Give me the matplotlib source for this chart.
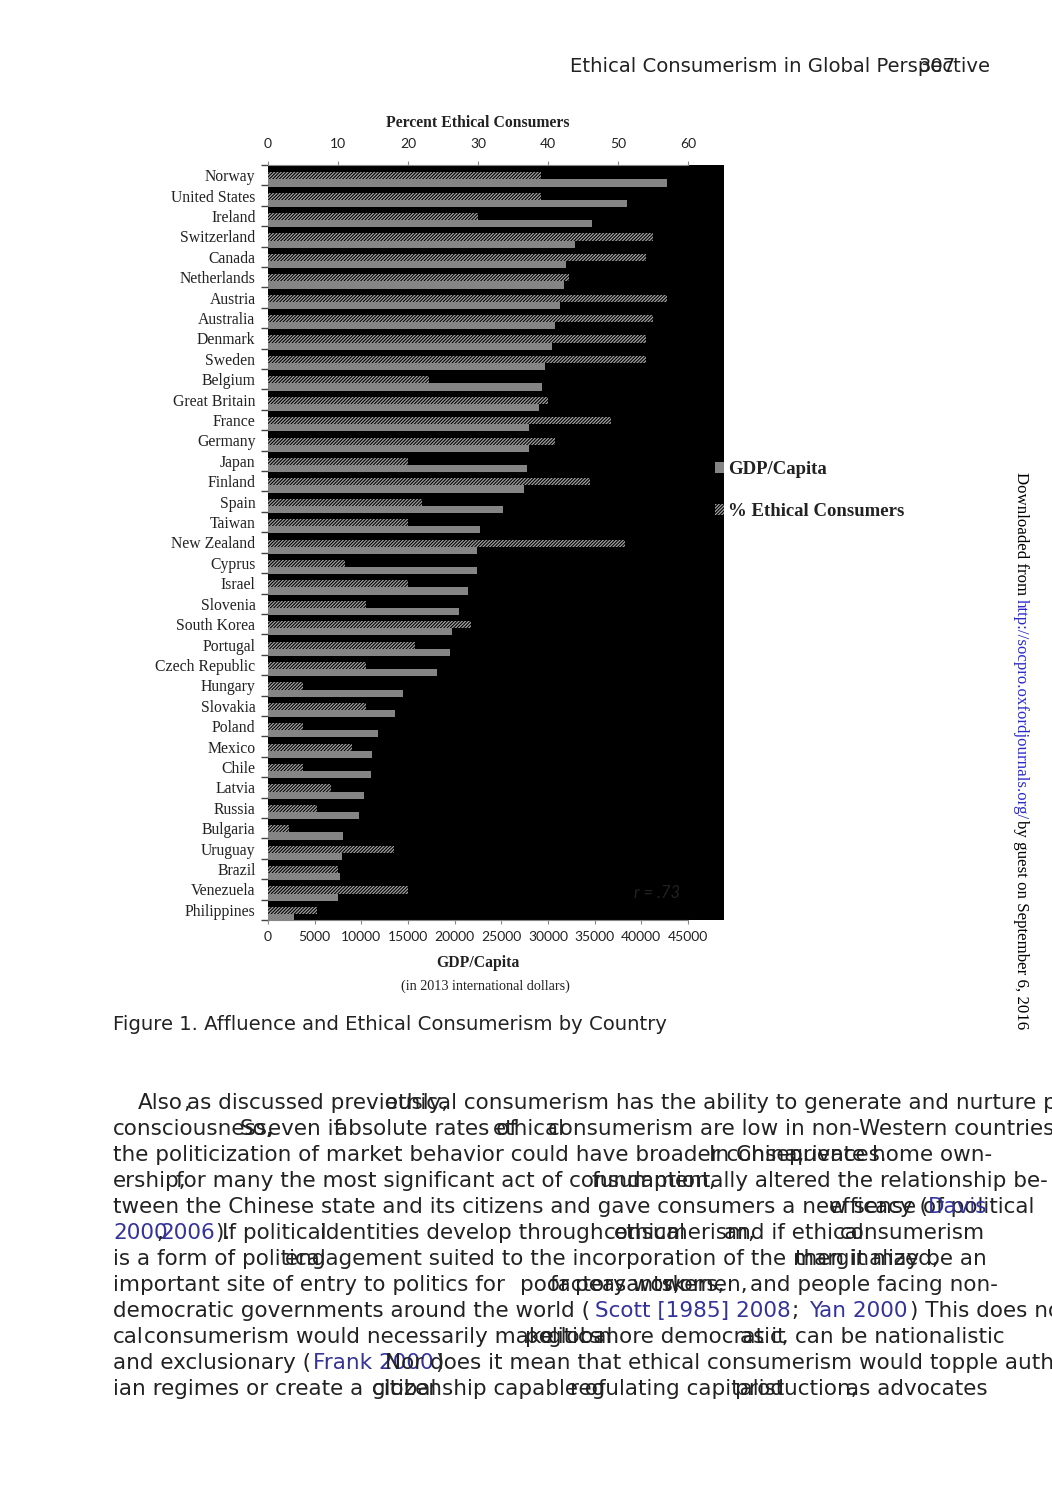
import numpy as np
import matplotlib.pyplot as plt
from matplotlib.patches import Patch

# chart data
countries = ['Norway', 'United States', 'Ireland', 'Switzerland', 'Canada', 'Netherlands',
             'Austria', 'Australia', 'Denmark', 'Sweden', 'Belgium', 'Great Britain', 'France',
             'Germany', 'Japan', 'Finland', 'Spain', 'Taiwan', 'New Zealand', 'Cyprus', 'Israel',
             'Slovenia', 'South Korea', 'Portugal', 'Czech Republic', 'Hungary', 'Slovakia',
             'Poland', 'Mexico', 'Chile', 'Latvia', 'Russia', 'Bulgaria', 'Uruguay', 'Brazil',
             'Venezuela', 'Philippines']
pct_ethical = [39, 39, 30, 55, 54, 43, 57, 55, 54, 54, 23, 40, 49, 41, 20, 46, 22, 20, 51, 11,
               20, 14, 29, 21, 14, 5, 14, 5, 12, 5, 9, 7, 3, 18, 10, 20, 7]
gdp = [42750, 38430, 34750, 32860, 31900, 31750, 31250, 30720, 30390, 29710, 29390, 29070,
       28000, 28000, 27750, 27430, 25210, 22750, 22430, 22430, 21430, 20430, 19750, 19500,
       18070, 14500, 13610, 11750, 11180, 11040, 10290, 9750, 8000, 7930, 7710, 7540, 2790]
gdp_ticks = list(range(0, 45001, 5000))
pct_ticks = list(range(0, 61, 10))

W, H = 1052, 1500
plt.rcParams['hatch.linewidth'] = 0.9
fig = plt.figure(figsize=(W / 100, H / 100), dpi=100)
fig.patch.set_facecolor('white')


def fx(x):
    return x / W


def fy(y):
    return 1 - y / H


TXT = '#222222'
LINK = '#333399'
GREY = '#858585'
HATCH = '/' * 10

# plot area
ax = fig.add_axes([fx(268), fy(920), fx(724) - fx(268), fy(165) - fy(920)])
ax.set_facecolor('black')
ax2 = ax.twiny()

y = np.arange(len(countries))
ax.barh(y + 0.38, gdp, height=0.35, color=GREY, lw=0)
ax2.barh(y + 0.03, pct_ethical, height=0.35, facecolor='black', edgecolor='#a0a0a0',
         hatch=HATCH, lw=0)

ax.set_ylim(len(countries) - 0.5, -0.5)
ax.set_xlim(0, 45000 * 456 / 420)
ax2.set_xlim(0, 60 * 456 / 420)

ax.set_yticks(y)
ax.set_yticklabels(countries, family='Liberation Serif', fontsize=11.3, color=TXT)
ax.set_yticks(np.arange(-0.5, len(countries), 1), minor=True)
ax.tick_params(axis='y', which='major', length=0, pad=9)
ax.tick_params(axis='y', which='minor', length=5, color='#444444', width=1)

ax.set_xticks(gdp_ticks)
ax.set_xticklabels([str(v) for v in gdp_ticks], family='Lato', fontsize=10, color=TXT)
ax.tick_params(axis='x', length=3, color='#888888', pad=5)
ax2.set_xticks(pct_ticks)
ax2.set_xticklabels([str(v) for v in pct_ticks], family='Lato', fontsize=10, color=TXT)
ax2.tick_params(axis='x', length=3, color='#888888', pad=8)

for s in ['top', 'right', 'left']:
    ax.spines[s].set_visible(False)
ax.spines['bottom'].set_color('#888888')
ax.spines['bottom'].set_bounds(0, 45000)
for s in ['bottom', 'right', 'left']:
    ax2.spines[s].set_visible(False)
ax2.spines['top'].set_color('#888888')
ax2.spines['top'].set_bounds(0, 60)

fig.text(fx(657), fy(893), 'r = .73', ha='center', va='center', family='Lato',
         style='italic', fontsize=12, color='#222222')

fig.text(fx(478), fy(123), 'Percent Ethical Consumers', ha='center', va='center',
         family='Liberation Serif', weight='bold', fontsize=11.3, color=TXT)
fig.text(fx(478), fy(963), 'GDP/Capita', ha='center', va='center',
         family='Liberation Serif', weight='bold', fontsize=11.3, color=TXT)
fig.text(fx(485), fy(986), '(in 2013 international dollars)', ha='center', va='center',
         family='Liberation Serif', fontsize=10.2, color=TXT)

handles = [Patch(facecolor=GREY, lw=0),
           Patch(facecolor='black', edgecolor='#a0a0a0', hatch=HATCH, lw=0)]
fig.legend(handles, ['GDP/Capita', '% Ethical Consumers'], loc='upper left',
           bbox_to_anchor=(fx(715), fy(461)), frameon=False,
           prop=dict(family='Liberation Serif', weight='bold', size=13.5),
           handlelength=0.5, handleheight=0.5, handletextpad=0.2,
           labelspacing=1.33, borderaxespad=0, borderpad=0, labelcolor=TXT)

# page text
fig.text(fx(570), fy(66), 'Ethical Consumerism in Global Perspective', ha='left',
         va='center', family='DejaVu Sans', fontsize=14.1, color=TXT)
fig.text(fx(919), fy(66), '307', ha='left', va='center', family='DejaVu Sans',
         fontsize=14.1, color=TXT)
fig.text(fx(113), fy(1024), 'Figure 1. Affluence and Ethical Consumerism by Country',
         ha='left', va='center', family='DejaVu Sans', fontsize=14.15, color=TXT)

# body lines: (text, x, is_link)
body = [
    (1103, [('Also', 138, 0), (',', 183, 0), ('as discussed previously,', 187, 0),
            ('ethical consumerism has the ability to generate and nurture political', 385, 0)]),
    (1129, [('consciousness,', 113, 0), ('So,', 240, 0), ('even if', 268, 0),
            ('absolute rates of', 335, 0), ('ethical', 493, 0),
            ('consumerism are low in non-Western countries,', 548, 0)]),
    (1155, [('the politicization of market behavior could have broader consequences.', 113, 0),
            ('In China,', 709, 0), ('private home own-', 789, 0)]),
    (1181, [('ership,', 113, 0), ('for many the most significant act of consumption,', 176, 0),
            ('fundamentally altered the relationship be-', 592, 0)]),
    (1207, [('tween the Chinese state and its citizens and gave consumers a new sense of political',
             113, 0), ('efficacy (', 829, 0), ('Davis', 928, 1)]),
    (1233, [('2000', 113, 1), (',', 156, 0), ('2006', 160, 1), (').', 215, 0),
            ('If political', 222, 0), ('identities develop through', 320, 0),
            ('consumerism,', 604, 0), ('ethical', 614, 0), ('and if ethical', 724, 0),
            ('consumerism', 840, 0)]),
    (1259, [('is a form of political', 113, 0),
            ('engagement suited to the incorporation of the marginalized,', 285, 0),
            ('then it may be an', 795, 0)]),
    (1285, [('important site of entry to politics for', 113, 0), ('poor', 520, 0),
            ('factory workers,', 550, 0), ('peasants,', 575, 0), ('women,', 662, 0),
            ('and people facing non-', 750, 0)]),
    (1311, [('democratic governments around the world (', 113, 0), ('Scott [1985] 2008', 595, 1),
            (';', 791, 0), ('Yan 2000', 809, 1), (') This does not mean that politi-', 910, 0)]),
    (1337, [('cal', 113, 0), ('consumerism would necessarily make', 144, 0), ('politics', 525, 0),
            ('global', 548, 0), ('more democratic,', 598, 0), ('as it', 740, 0),
            ('can be nationalistic', 795, 0)]),
    (1363, [('and exclusionary (', 113, 0), ('Frank 2000', 313, 1), (')', 435, 0),
            ('Nor does it mean that ethical consumerism would topple author-', 385, 0)]),
    (1389, [('ian regimes or create a', 113, 0), ('global', 372, 0),
            ('citizenship capable of', 372, 0), ('regulating capitalist', 570, 0),
            ('production,', 735, 0), ('as advocates', 846, 0)]),
]

for yy, parts in body:
    for s, x, link in parts:
        fig.text(fx(x), fy(yy), s, ha='left', va='center', family='DejaVu Sans',
                 fontsize=15.5, color=LINK if link else TXT)

# vertical download note
r = fig.canvas.get_renderer()
side = [('Downloaded from ', 'black'), ('http://socpro.oxfordjournals.org/', '#2a2acc'),
        ('by guest on September 6, 2016', 'black')]
ypos = 472
for s, c in side:
    t = fig.text(fx(1021), fy(ypos), s, rotation=270, rotation_mode='anchor', ha='left',
                 va='center', family='Liberation Serif', fontsize=12.2, color=c)
    ypos += t.get_window_extent(r).height

fig.savefig('out.png', dpi=100, facecolor='white')
